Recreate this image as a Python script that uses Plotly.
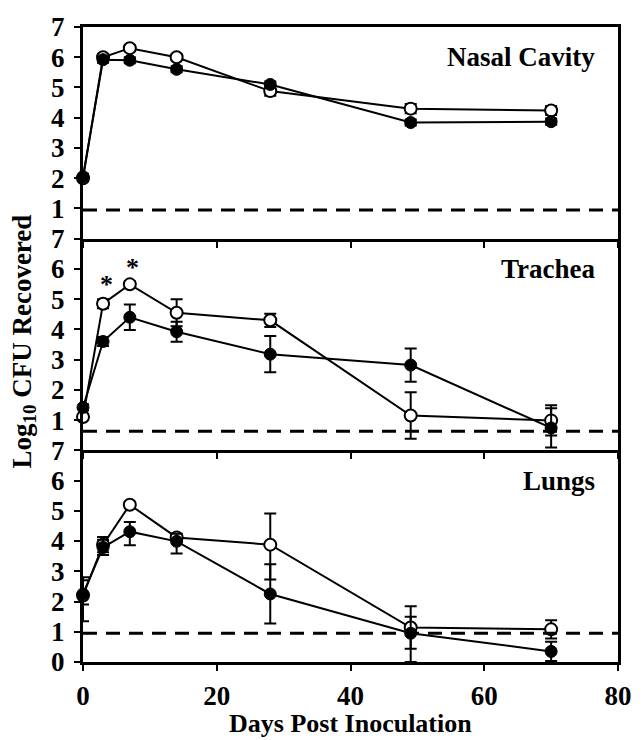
import plotly.graph_objects as go
from plotly.subplots import make_subplots

days = [0, 3, 7, 14, 28, 49, 70]

# Nasal cavity
nasal_open = [2.0, 6.0, 6.3, 6.0, 4.88, 4.3, 4.24]
nasal_open_err = [0.1, 0.1, 0.1, 0.1, 0.15, 0.15, 0.15]
nasal_fill = [2.05, 5.92, 5.9, 5.6, 5.1, 3.84, 3.87]
nasal_fill_err = [0.1, 0.1, 0.1, 0.1, 0.1, 0.1, 0.1]

# Trachea
trach_open = [1.1, 4.85, 5.49, 4.55, 4.3, 1.15, 0.99]
trach_open_err = [0.1, 0.15, 0.1, 0.45, 0.22, 0.77, 0.5]
trach_fill = [1.42, 3.6, 4.4, 3.92, 3.18, 2.82, 0.74]
trach_fill_err = [0.1, 0.15, 0.42, 0.33, 0.6, 0.55, 0.65]

# Lungs
lung_open = [2.2, 3.88, 5.2, 4.12, 3.88, 1.14, 1.08]
lung_open_err_up = [0.6, 0.25, 0.1, 0.1, 1.03, 0.7, 0.3]
lung_open_err_dn = [0.85, 0.25, 0.1, 0.1, 1.15, 0.7, 0.3]
lung_fill = [2.25, 3.79, 4.31, 3.99, 2.25, 0.95, 0.35]
lung_fill_err_up = [0.45, 0.25, 0.32, 0.25, 0.98, 0.55, 0.32]
lung_fill_err_dn = [0.35, 0.25, 0.45, 0.4, 0.98, 0.95, 0.32]

limits = [0.95, 0.63, 0.95]
panel_names = ["Nasal Cavity", "Trachea", "Lungs"]
star_days = [3, 7]
star_vals = [5.5, 6.05]

x_ticks = [0, 20, 40, 60, 80]

FONT = "Liberation Serif, Times New Roman, serif"
FS = 27

fig = make_subplots(rows=3, cols=1, shared_xaxes=True, vertical_spacing=0)

panels = [
    (nasal_open, nasal_open_err, nasal_open_err, nasal_fill, nasal_fill_err, nasal_fill_err),
    (trach_open, trach_open_err, trach_open_err, trach_fill, trach_fill_err, trach_fill_err),
    (lung_open, lung_open_err_up, lung_open_err_dn, lung_fill, lung_fill_err_up, lung_fill_err_dn),
]

for i, (o, oeu, oed, f, feu, fed) in enumerate(panels):
    row = i + 1
    fig.add_trace(go.Scatter(
        x=days, y=o, mode="lines+markers", cliponaxis=False, showlegend=False,
        line=dict(color="black", width=2),
        marker=dict(symbol="circle", size=12, color="white", line=dict(color="black", width=2)),
        error_y=dict(type="data", array=oeu, arrayminus=oed, symmetric=False,
                     color="black", thickness=2, width=6),
    ), row=row, col=1)
    fig.add_trace(go.Scatter(
        x=days, y=f, mode="lines+markers", cliponaxis=False, showlegend=False,
        line=dict(color="black", width=2),
        marker=dict(symbol="circle", size=12, color="black", line=dict(color="black", width=1)),
        error_y=dict(type="data", array=feu, arrayminus=fed, symmetric=False,
                     color="black", thickness=2, width=6),
    ), row=row, col=1)
    yref = "y" if row == 1 else f"y{row}"
    xref = "x" if row == 1 else f"x{row}"
    fig.add_shape(type="line", xref=f"{xref} domain", yref=yref, x0=0, x1=1,
                  y0=limits[i], y1=limits[i],
                  line=dict(color="black", width=3, dash="14px,9px"))
    fig.add_annotation(text=panel_names[i], xref=f"{xref} domain", yref=yref,
                       x=0.96, y=6.0, xanchor="right", yanchor="middle", showarrow=False,
                       font=dict(family=FONT, size=FS, color="black", weight="bold"))

for d, v in zip(star_days, star_vals):
    fig.add_annotation(text="*", xref="x2", yref="y2", x=d, y=v, xshift=3,
                       showarrow=False, yanchor="middle",
                       font=dict(family=FONT, size=26, color="black", weight="bold"))

for row in range(1, 4):
    fig.update_xaxes(range=[0, 80], tickvals=x_ticks, ticks="outside", ticklen=6, tickwidth=2,
                     tickcolor="black", showline=True, linewidth=3, linecolor="black",
                     mirror=(row == 1), showgrid=False, zeroline=False,
                     showticklabels=(row == 3), ticklabelstandoff=2,
                     tickfont=dict(family=FONT, size=FS, color="black", weight="bold"),
                     row=row, col=1)
    fig.update_yaxes(range=[0, 7], tickvals=(list(range(0, 8)) if row == 3 else list(range(1, 8))),
                     ticks="outside", ticklen=6, tickwidth=2, tickcolor="black",
                     showline=True, linewidth=3, linecolor="black", mirror=True,
                     showgrid=False, zeroline=False, ticklabelstandoff=4,
                     tickfont=dict(family=FONT, size=FS, color="black", weight="bold"),
                     row=row, col=1)

fig.add_annotation(text="Days Post Inoculation", xref="paper", yref="paper",
                   x=0.5, y=-0.1212, xanchor="center", yanchor="bottom", showarrow=False,
                   borderpad=0,
                   font=dict(family=FONT, size=26, color="black", weight="bold"))
fig.add_annotation(text="Log<sub>10</sub> CFU Recovered", xref="paper", yref="paper",
                   x=-0.11, y=0.505, xanchor="center", yanchor="middle", textangle=-90,
                   showarrow=False,
                   font=dict(family=FONT, size=FS, color="black", weight="bold"))

fig.update_layout(
    width=644, height=740,
    margin=dict(l=83, r=17, t=20, b=78),
    plot_bgcolor="white", paper_bgcolor="white",
    font=dict(family=FONT, size=FS, color="black", weight="bold"),
)

fig.write_html("out.html")
